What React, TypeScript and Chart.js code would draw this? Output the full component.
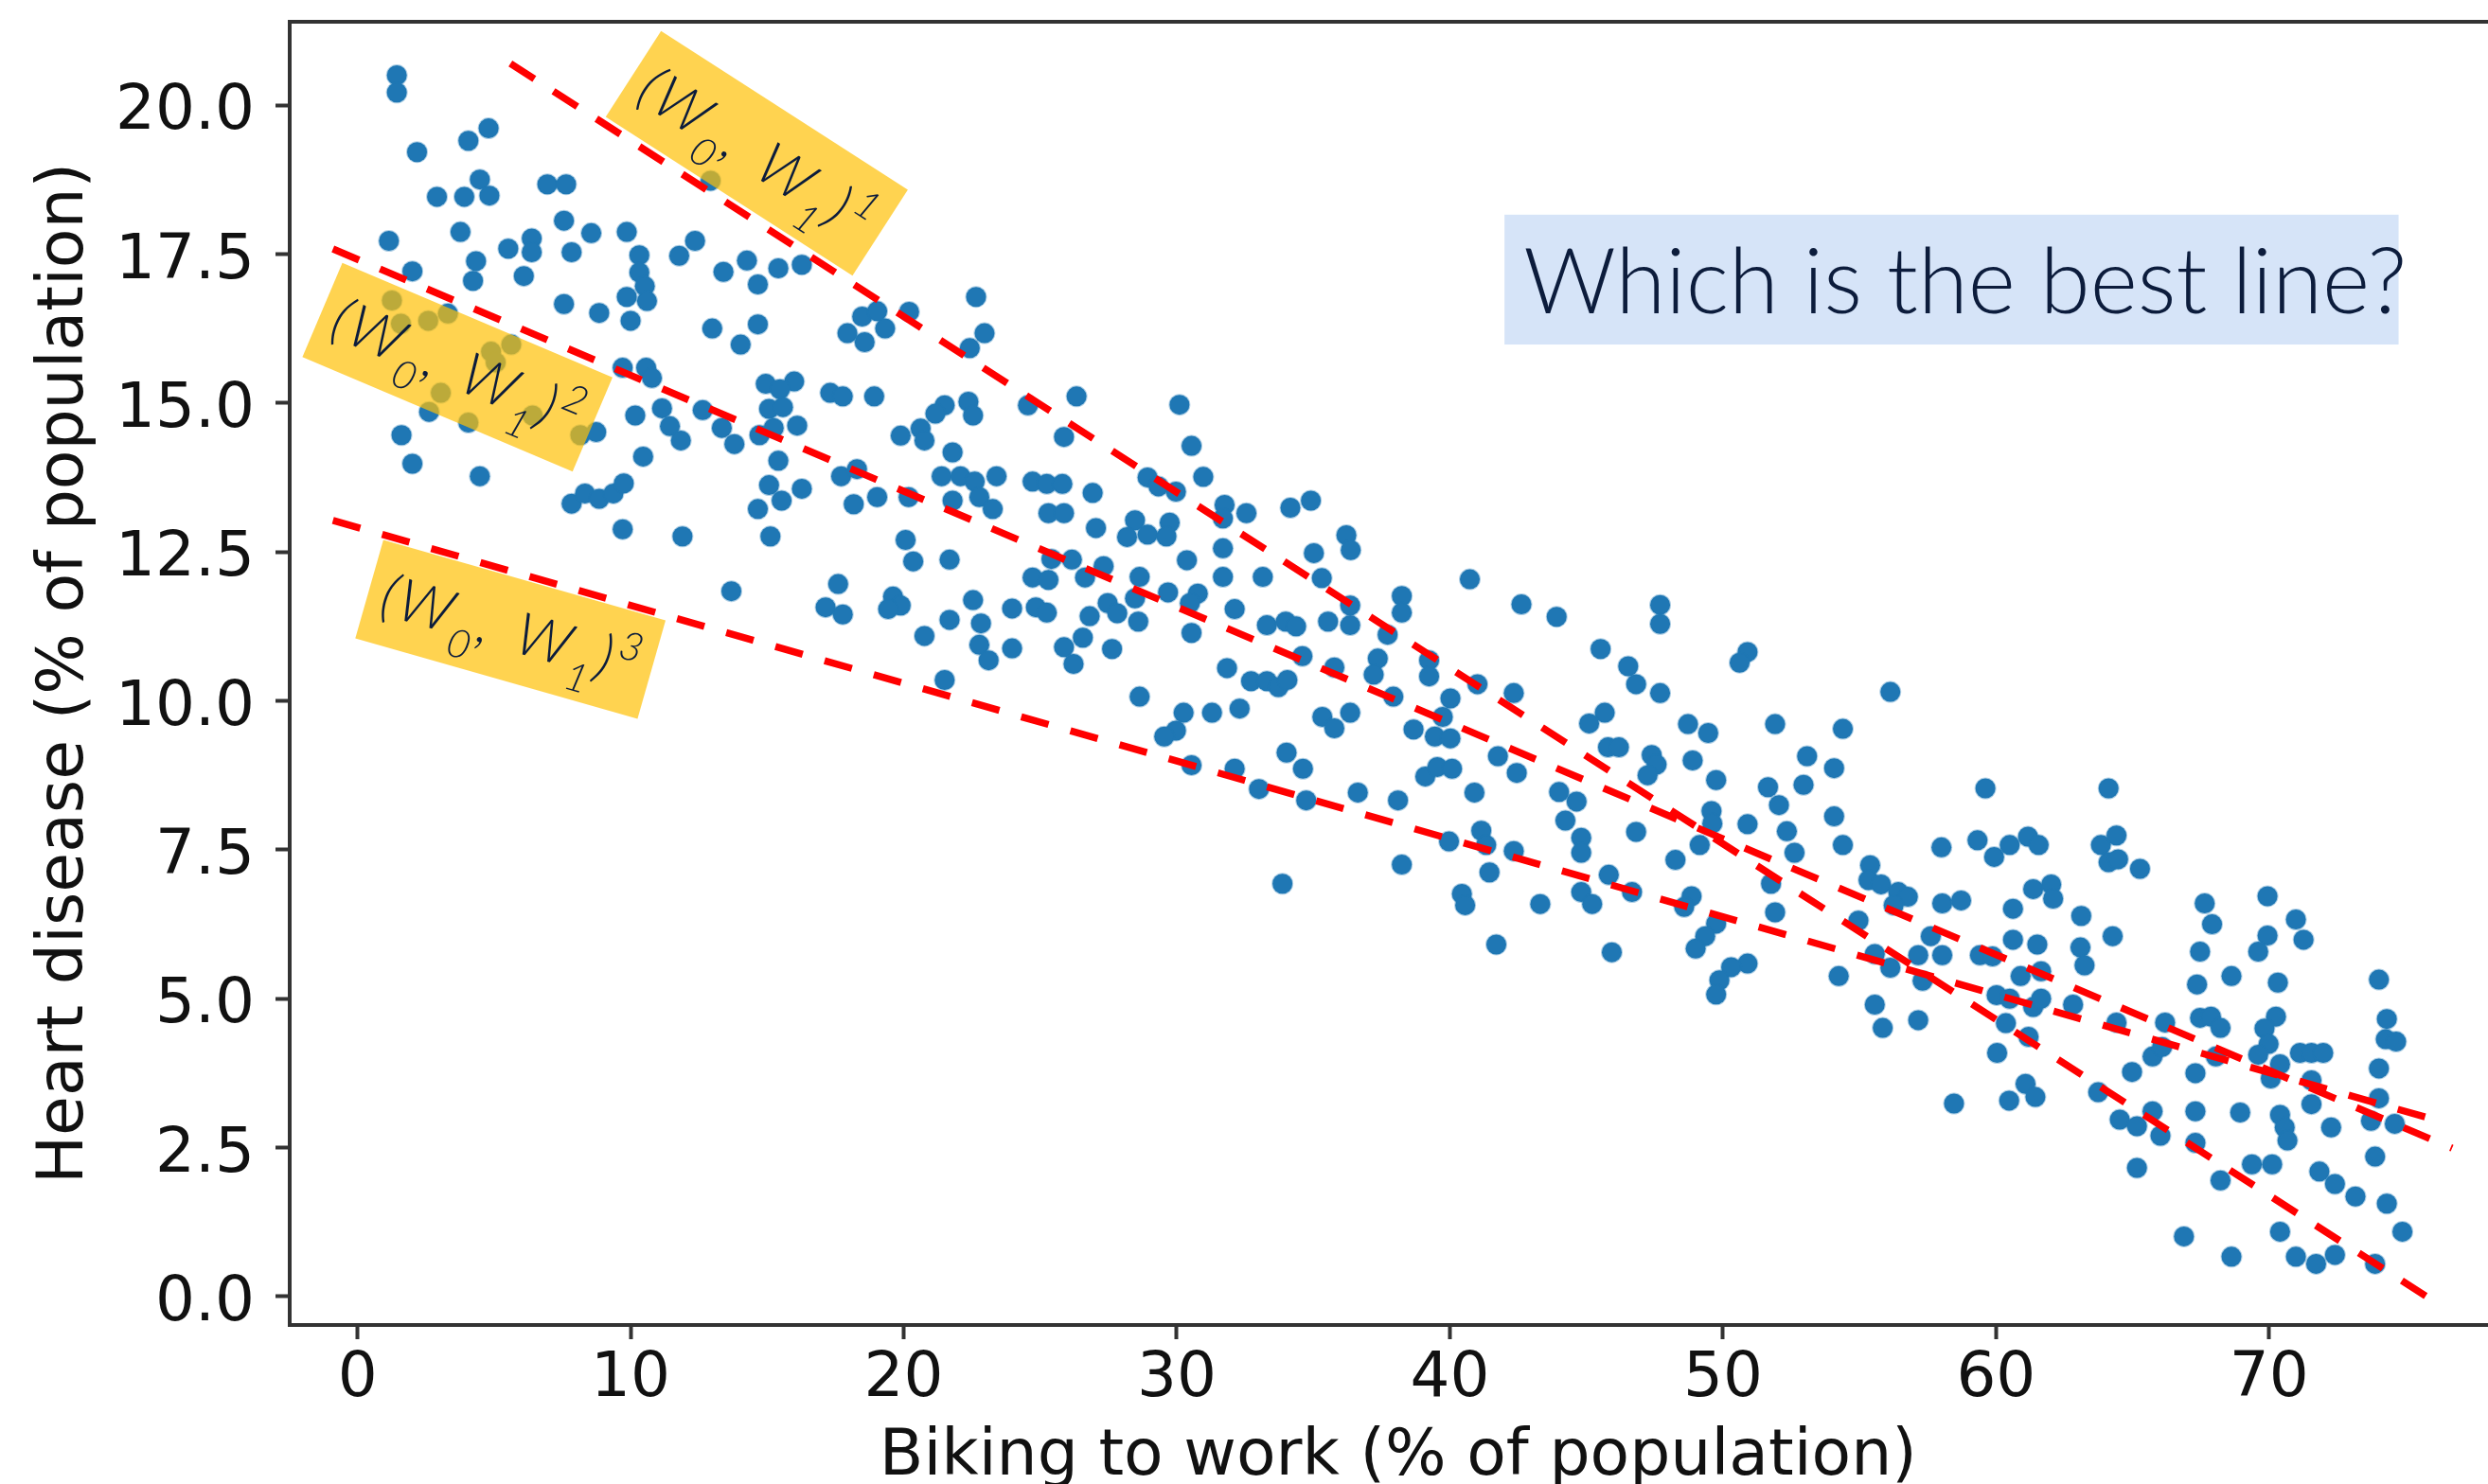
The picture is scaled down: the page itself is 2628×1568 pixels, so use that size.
import React, { useEffect, useRef } from 'react';
import { Chart, registerables } from 'chart.js';

Chart.register(...registerables);

// ---------- data ----------
// [biking to work %, heart disease %]
const observations: [number, number][] = [
  [1.44, 20.5], [1.44, 20.21], [4.8, 19.61], [4.06, 19.4], [2.18, 19.21], [2.91, 18.46], [3.91, 18.46], [4.48, 18.75],
  [4.83, 18.48], [6.95, 18.67], [7.64, 18.67], [7.56, 18.06], [1.15, 17.72], [3.77, 17.87], [8.56, 17.85], [9.86, 17.87],
  [5.52, 17.59], [6.38, 17.76], [6.38, 17.53], [7.84, 17.53], [12.36, 17.72], [11.78, 17.47], [10.32, 17.48], [10.32, 17.19],
  [10.52, 16.96], [9.86, 16.78], [10.6, 16.71], [4.34, 17.38], [4.23, 17.05], [6.09, 17.13], [2.01, 17.21], [7.56, 16.66],
  [8.85, 16.51], [10.0, 16.38], [12.99, 16.25], [1.26, 16.72], [1.59, 16.33], [2.59, 16.38], [3.31, 16.5], [4.89, 15.86],
  [5.63, 15.98], [5.06, 15.68], [3.05, 15.17], [2.62, 14.85], [4.06, 14.67], [6.41, 14.79], [8.16, 14.46], [8.74, 14.51],
  [9.71, 15.59], [10.57, 15.59], [10.78, 15.42], [11.15, 14.91], [12.64, 14.88], [10.17, 14.79], [11.44, 14.61], [11.84, 14.37],
  [10.46, 14.1], [1.61, 14.46], [2.01, 13.98], [4.48, 13.77], [7.84, 13.31], [8.33, 13.48], [8.85, 13.39], [9.37, 13.48],
  [9.75, 13.65], [9.71, 12.88], [11.9, 12.76], [12.93, 18.73],
  [13.4, 17.2], [14.26, 17.39], [14.66, 16.99], [15.41, 17.26], [16.27, 17.32], [14.66, 16.32], [14.03, 15.98], [18.48, 16.45],
  [19.03, 16.54], [17.94, 16.17], [18.57, 16.02], [19.32, 16.25], [20.2, 16.53], [22.65, 16.78], [22.96, 16.17], [22.42, 15.92],
  [14.95, 15.32], [15.99, 15.36], [15.47, 15.23], [15.07, 14.9], [15.58, 14.93], [16.1, 14.62], [14.72, 14.46], [15.24, 14.58],
  [13.34, 14.58], [13.8, 14.31], [15.41, 14.03], [17.31, 15.17], [17.77, 15.11], [18.92, 15.11], [21.5, 14.96], [21.16, 14.82],
  [22.37, 15.02], [22.54, 14.79], [24.55, 14.96], [26.33, 15.11], [25.87, 14.43], [19.89, 14.45], [20.62, 14.57], [20.76, 14.37],
  [21.79, 14.17], [21.39, 13.77], [22.08, 13.77], [22.6, 13.68], [23.4, 13.77], [21.79, 13.36], [22.77, 13.42], [23.26, 13.22],
  [17.71, 13.77], [18.29, 13.89], [18.17, 13.3], [19.03, 13.42], [20.18, 13.42], [15.07, 13.62], [16.27, 13.56], [15.53, 13.36],
  [14.66, 13.22], [15.12, 12.76], [24.72, 13.68], [25.24, 13.64], [25.81, 13.64], [25.3, 13.15], [25.87, 13.15], [20.07, 12.7],
  [20.35, 12.34], [21.68, 12.37], [25.41, 12.38], [26.16, 12.37], [24.72, 12.07], [25.3, 12.03], [26.64, 12.07], [13.69, 11.84],
  [17.6, 11.96], [17.14, 11.57], [17.77, 11.45], [19.61, 11.75], [19.89, 11.6], [19.43, 11.54], [22.54, 11.69], [21.68, 11.36],
  [20.76, 11.09], [22.83, 11.3], [22.77, 10.94], [23.11, 10.68], [23.97, 11.55], [24.84, 11.57], [25.24, 11.48], [23.97, 10.88],
  [25.87, 10.9], [26.22, 10.62], [26.56, 11.06], [21.5, 10.35],
  [30.1, 14.97], [30.54, 14.28], [30.97, 13.76], [28.93, 13.75], [29.33, 13.6], [29.97, 13.51], [26.92, 13.49], [31.75, 13.29],
  [32.55, 13.15], [31.69, 13.06], [34.16, 13.24], [34.91, 13.36], [27.04, 12.9], [28.47, 13.03], [28.18, 12.75], [28.93, 12.79],
  [29.74, 12.99], [29.62, 12.76], [36.21, 12.78], [36.37, 12.53], [31.69, 12.56], [35.02, 12.48], [30.37, 12.36], [27.32, 12.26],
  [28.64, 12.08], [31.69, 12.08], [33.15, 12.08], [35.31, 12.06], [29.68, 11.82], [30.77, 11.8], [30.48, 11.64], [28.47, 11.72],
  [28.59, 11.33], [27.47, 11.64], [27.82, 11.47], [26.81, 11.42], [38.24, 11.76], [38.24, 11.48], [32.12, 11.54], [36.35, 11.6],
  [35.54, 11.33], [36.35, 11.27], [33.3, 11.27], [33.99, 11.33], [34.37, 11.25], [30.54, 11.14], [27.63, 10.87], [37.72, 11.11],
  [34.6, 10.75], [35.77, 10.56], [37.36, 10.71], [37.21, 10.44], [39.24, 10.68], [39.24, 10.41], [31.84, 10.55], [32.72, 10.33],
  [33.3, 10.33], [33.72, 10.23], [34.05, 10.35], [28.64, 10.07], [37.93, 10.07], [40.02, 10.04], [39.74, 9.73], [39.45, 9.4],
  [40.02, 9.37], [30.25, 9.8], [31.29, 9.8], [32.3, 9.87], [29.97, 9.5], [29.54, 9.4], [35.33, 9.73], [35.77, 9.54],
  [36.35, 9.8], [38.67, 9.52], [34.02, 9.13], [34.62, 8.86], [30.54, 8.92], [32.12, 8.86], [33.01, 8.52], [34.74, 8.33],
  [36.63, 8.46], [38.1, 8.33], [39.1, 8.73], [39.54, 8.89], [40.08, 8.86], [39.97, 7.64], [38.24, 7.25], [33.87, 6.93],
  [40.73, 12.04], [42.62, 11.62], [43.91, 11.41], [47.7, 11.61], [47.7, 11.29], [45.52, 10.87], [46.53, 10.58], [46.82, 10.28],
  [47.7, 10.13], [41.01, 10.28], [42.34, 10.13], [50.9, 10.82], [50.61, 10.64], [45.67, 9.8], [45.1, 9.62], [48.72, 9.61],
  [49.46, 9.46], [51.91, 9.61], [45.79, 9.22], [46.19, 9.22], [47.39, 9.09], [47.57, 8.93], [47.24, 8.75], [53.08, 9.07],
  [41.76, 9.07], [42.45, 8.79], [48.89, 9.0], [49.75, 8.67], [51.65, 8.55], [52.05, 8.25], [52.95, 8.59], [40.9, 8.46],
  [44.0, 8.47], [44.64, 8.31], [44.23, 7.99], [49.58, 8.15], [49.61, 7.94], [50.9, 7.93], [52.34, 7.81], [52.62, 7.45],
  [46.82, 7.8], [41.15, 7.82], [41.33, 7.58], [44.81, 7.7], [44.81, 7.45], [42.34, 7.48], [49.15, 7.58], [48.26, 7.33],
  [41.45, 7.12], [51.76, 6.93], [45.82, 7.08], [40.44, 6.76], [40.56, 6.57], [43.31, 6.59], [44.81, 6.79], [45.21, 6.59],
  [46.67, 6.79], [48.85, 6.72], [48.58, 6.54], [51.91, 6.45], [49.75, 6.26], [49.35, 6.05], [49.0, 5.84], [41.7, 5.91],
  [45.93, 5.78], [50.9, 5.59], [50.3, 5.53], [49.87, 5.31], [49.75, 5.07],
  [56.13, 10.15], [54.39, 9.53], [54.07, 8.87], [54.07, 8.06], [54.39, 7.58], [59.61, 8.53], [64.12, 8.53], [58.0, 7.54],
  [59.32, 7.66], [59.93, 7.38], [60.5, 7.58], [61.17, 7.72], [61.56, 7.58], [63.84, 7.58], [64.41, 7.74], [64.12, 7.29],
  [64.47, 7.34], [65.27, 7.18], [55.39, 7.24], [55.33, 6.99], [55.79, 6.92], [56.42, 6.79], [56.77, 6.71], [56.25, 6.57],
  [54.96, 6.31], [58.03, 6.6], [58.72, 6.65], [60.62, 6.51], [61.36, 6.84], [62.02, 6.92], [62.09, 6.68], [63.12, 6.39],
  [57.61, 6.05], [60.62, 5.99], [61.51, 5.91], [64.27, 6.05], [63.09, 5.86], [63.24, 5.56], [55.56, 5.75], [54.24, 5.38],
  [56.13, 5.52], [57.15, 5.73], [57.31, 5.3], [58.03, 5.73], [59.41, 5.73], [59.87, 5.71], [60.9, 5.38], [61.65, 5.46],
  [60.02, 5.06], [60.5, 5.0], [60.36, 4.59], [61.36, 4.86], [61.65, 5.0], [62.82, 4.9], [64.41, 4.6], [66.19, 4.6],
  [55.56, 4.9], [55.85, 4.51], [57.15, 4.64], [61.19, 4.36], [60.04, 4.09], [65.73, 4.03], [66.08, 4.19], [64.98, 3.77],
  [58.46, 3.24], [60.48, 3.29], [61.08, 3.57], [61.44, 3.35], [63.74, 3.43], [64.53, 2.97], [65.16, 2.86], [65.73, 3.11],
  [66.02, 2.7], [65.16, 2.16], [66.88, 1.01],
  [67.64, 6.6], [67.91, 6.25], [69.94, 6.72], [70.98, 6.33], [71.26, 5.99], [69.94, 6.06], [69.6, 5.79], [67.47, 5.79],
  [67.36, 5.24], [68.62, 5.38], [70.32, 5.27], [74.02, 5.32], [67.47, 4.68], [67.87, 4.7], [68.22, 4.51], [70.25, 4.7],
  [69.83, 4.5], [69.98, 4.24], [69.6, 4.06], [74.31, 4.66], [74.27, 4.32], [74.65, 4.28], [68.05, 4.03], [70.4, 3.9],
  [70.06, 3.66], [71.13, 4.09], [71.55, 4.09], [71.98, 4.09], [71.55, 3.63], [67.3, 3.75], [74.02, 3.83], [71.55, 3.23],
  [74.02, 3.33], [73.73, 2.95], [74.6, 2.9], [67.3, 3.11], [68.94, 3.09], [70.4, 3.05], [70.57, 2.84], [70.67, 2.62],
  [72.27, 2.84], [67.3, 2.58], [73.88, 2.35], [69.37, 2.22], [70.11, 2.22], [68.22, 1.95], [71.84, 2.1], [72.41, 1.89],
  [73.16, 1.68], [74.31, 1.56], [70.4, 1.09], [74.88, 1.09], [68.62, 0.67], [70.98, 0.67], [71.72, 0.55], [72.41, 0.7],
  [73.88, 0.55],
];

// candidate lines y = w0 + w1 * x, with the x-extent over which each is drawn
const lineW0 = [22.35, 17.41, 12.91];
const lineW1 = [-0.295, -0.1945, -0.1307];
const lineStartX = [5.6, -0.9, -0.9];
const lineEndX = [76.0, 76.7, 76.4];
const lineNames = ['1', '2', '3'];

// label anchor (data coordinates) for each candidate line
const labelAnchorX = [14.62, 3.66, 5.6];
const labelAnchorY = [19.19, 15.6, 11.2];

// question box (data coordinates of its corners)
const questionText = 'Which is the best line?';
const questionBox = { x0: 42.0, y0: 18.16, x1: 74.74, y1: 15.98 };

const xTicks = [0, 10, 20, 30, 40, 50, 60, 70];
const yTicks = [0, 2.5, 5, 7.5, 10, 12.5, 15, 17.5, 20];

const xTitle = 'Biking to work (% of population)';
const yTitle = 'Heart disease (% of population)';

// ---------- styles ----------
const CANVAS_W = 2660;
const CANVAS_H = 1568;
const VIEW_W = 2628;
const AXIS_COLOR = '#333333';
const TEXT_COLOR = '#111111';
const NAVY = '#0c1c3c';
const TICK_FONT = { family: 'DejaVu Sans', size: 66 };
const TITLE_FONT = { family: 'DejaVu Sans', size: 68, lineHeight: 1 };

function drawLineLabel(ctx: CanvasRenderingContext2D, name: string) {
  const base = 62;
  const gap = 3;
  const segs = [
    { t: '(', s: 1, dy: 0, pre: 0 },
    { t: 'W', s: 1, dy: 0, pre: 0 },
    { t: '0', s: 0.68, dy: 0.36, pre: 0 },
    { t: ',', s: 1, dy: 0, pre: 0 },
    { t: 'W', s: 1, dy: 0, pre: 0.4 },
    { t: '1', s: 0.68, dy: 0.36, pre: 0 },
    { t: ')', s: 1, dy: 0, pre: 0 },
    { t: name, s: 0.68, dy: -0.4, pre: 0.02 },
  ];
  const fontFor = (s: number) => `italic 300 ${Math.round(base * s)}px Lato`;
  const widths = segs.map((sg) => {
    ctx.font = fontFor(sg.s);
    return ctx.measureText(sg.t).width;
  });
  let total = 0;
  segs.forEach((sg, i) => {
    total += sg.pre * base + widths[i] + (i < segs.length - 1 ? gap : 0);
  });
  let x = -total / 2;
  const baseline = 22;
  ctx.fillStyle = NAVY;
  ctx.textBaseline = 'alphabetic';
  ctx.textAlign = 'left';
  segs.forEach((sg, i) => {
    x += sg.pre * base;
    ctx.font = fontFor(sg.s);
    ctx.fillText(sg.t, x, baseline + sg.dy * base);
    x += widths[i] + gap;
  });
}

const annotationPlugin = {
  id: 'bestLineAnnotations',
  afterDatasetDraw(chart: any, args: any) {
    if (args.index !== 0) return;
    const ctx: CanvasRenderingContext2D = chart.ctx;
    const xs = chart.scales.x;
    const ys = chart.scales.y;
    for (let i = 0; i < lineW0.length; i++) {
      const cx = xs.getPixelForValue(labelAnchorX[i]);
      const cy = ys.getPixelForValue(labelAnchorY[i]);
      const px1 = xs.getPixelForValue(0);
      const py1 = ys.getPixelForValue(lineW0[i]);
      const px2 = xs.getPixelForValue(50);
      const py2 = ys.getPixelForValue(lineW0[i] + lineW1[i] * 50);
      const ang = Math.atan2(py2 - py1, px2 - px1);
      ctx.save();
      ctx.translate(cx, cy);
      ctx.rotate(ang);
      ctx.fillStyle = 'rgba(255, 192, 5, 0.7)';
      ctx.fillRect(-155, -54, 310, 108);
      drawLineLabel(ctx, lineNames[i]);
      ctx.restore();
    }
  },
  afterDraw(chart: any) {
    const ctx: CanvasRenderingContext2D = chart.ctx;
    const area = chart.chartArea;
    const xs = chart.scales.x;
    const ys = chart.scales.y;
    // top spine
    ctx.save();
    ctx.strokeStyle = AXIS_COLOR;
    ctx.lineWidth = 4;
    ctx.beginPath();
    ctx.moveTo(area.left - 2, area.top);
    ctx.lineTo(area.right, area.top);
    ctx.stroke();
    // question box
    const bx0 = xs.getPixelForValue(questionBox.x0);
    const bx1 = xs.getPixelForValue(questionBox.x1);
    const by0 = ys.getPixelForValue(questionBox.y0);
    const by1 = ys.getPixelForValue(questionBox.y1);
    ctx.fillStyle = '#d6e4f8';
    ctx.fillRect(bx0, by0, bx1 - bx0, by1 - by0);
    ctx.fillStyle = NAVY;
    ctx.font = '300 96px Lato';
    ctx.textAlign = 'left';
    ctx.textBaseline = 'alphabetic';
    ctx.fillText(questionText, bx0 + 20, by0 + 104);
    ctx.restore();
  },
};

export default function App() {
  const canvasRef = useRef<HTMLCanvasElement | null>(null);

  useEffect(() => {
    const canvas = canvasRef.current;
    if (!canvas) return;
    const lineDatasets = lineW0.map((w0, i) => ({
      label: `line ${lineNames[i]}`,
      data: [
        { x: lineStartX[i], y: w0 + lineW1[i] * lineStartX[i] },
        { x: lineEndX[i], y: w0 + lineW1[i] * lineEndX[i] },
      ],
      showLine: true,
      borderColor: '#ff0000',
      borderWidth: 7.5,
      borderDash: [30, 24],
      pointRadius: 0,
      fill: false,
      order: 1,
    }));
    const chart = new Chart(canvas, {
      type: 'scatter',
      data: {
        datasets: [
          {
            label: 'observations',
            data: observations.map(([x, y]) => ({ x, y })),
            backgroundColor: '#1f77b4',
            borderColor: 'rgba(31, 119, 180, 0.35)',
            borderWidth: 2,
            pointRadius: 10.5,
            order: 2,
          } as any,
          ...(lineDatasets as any[]),
        ],
      },
      options: {
        animation: false,
        responsive: false,
        devicePixelRatio: 1,
        events: [],
        layout: { padding: { top: 23, left: 0, right: 0, bottom: 0 } },
        plugins: { legend: { display: false }, tooltip: { enabled: false } },
        scales: {
          x: {
            type: 'linear',
            min: -2.483,
            max: 78.69,
            afterBuildTicks: (scale: any) => {
              scale.ticks = xTicks.map((v) => ({ value: v }));
            },
            afterFit: (scale: any) => {
              scale.height = 168;
              scale.paddingLeft = 0;
              scale.paddingRight = 0;
              scale.paddingTop = 0;
              scale.paddingBottom = 0;
            },
            border: { display: true, color: AXIS_COLOR, width: 4 },
            grid: { drawOnChartArea: false, drawTicks: true, tickLength: 15, tickWidth: 4, tickColor: AXIS_COLOR },
            ticks: {
              font: TICK_FONT,
              color: TEXT_COLOR,
              padding: 3,
              autoSkip: false,
              maxRotation: 0,
              callback: (v: any) => String(v),
            },
            title: {
              display: true,
              text: xTitle,
              font: TITLE_FONT,
              color: TEXT_COLOR,
              padding: { top: 0, bottom: -6 },
            },
          },
          y: {
            type: 'linear',
            min: -0.4766,
            max: 21.398,
            afterBuildTicks: (scale: any) => {
              scale.ticks = yTicks.map((v) => ({ value: v }));
            },
            afterFit: (scale: any) => {
              scale.width = 306;
              scale.paddingLeft = 0;
              scale.paddingRight = 0;
              scale.paddingTop = 0;
              scale.paddingBottom = 0;
            },
            border: { display: true, color: AXIS_COLOR, width: 4 },
            grid: { drawOnChartArea: false, drawTicks: true, tickLength: 15, tickWidth: 4, tickColor: AXIS_COLOR },
            ticks: {
              font: TICK_FONT,
              color: TEXT_COLOR,
              padding: 22,
              labelOffset: 8,
              autoSkip: false,
              callback: (v: any) => Number(v).toFixed(1),
            },
            title: {
              display: true,
              text: yTitle,
              font: TITLE_FONT,
              color: TEXT_COLOR,
              padding: { top: 35, bottom: 0 },
            },
          },
        },
      } as any,
      plugins: [annotationPlugin as any],
    });
    return () => chart.destroy();
  }, []);

  return (
    <div
      style={{
        position: 'fixed',
        left: 0,
        top: 0,
        width: VIEW_W,
        height: CANVAS_H,
        overflow: 'hidden',
        background: '#ffffff',
      }}
    >
      <canvas
        ref={canvasRef}
        width={CANVAS_W}
        height={CANVAS_H}
        style={{ display: 'block', width: CANVAS_W, height: CANVAS_H }}
      />
    </div>
  );
}
